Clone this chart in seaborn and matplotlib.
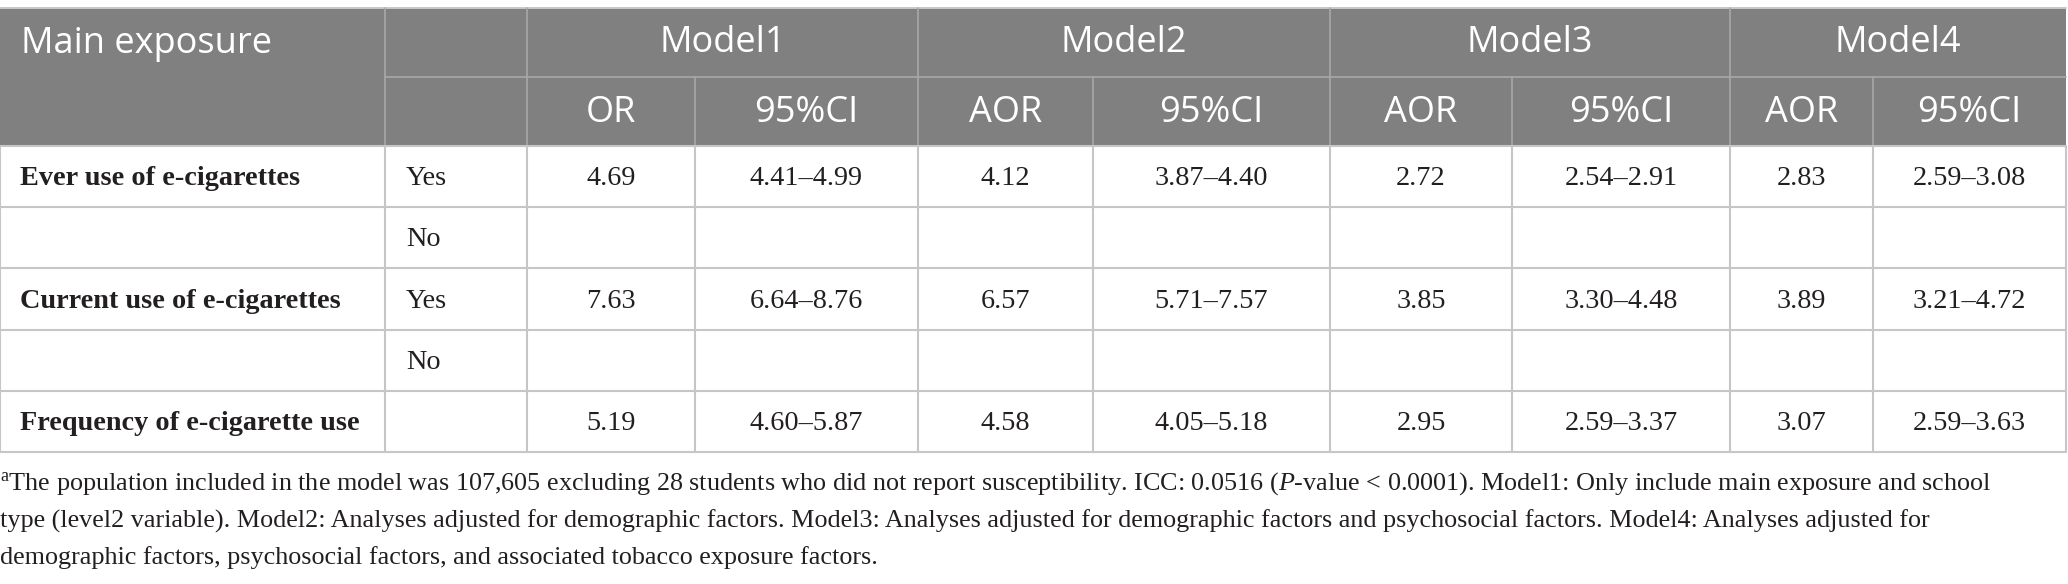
import matplotlib
matplotlib.use("Agg")
import matplotlib.pyplot as plt
import seaborn as sns
from matplotlib.patches import Rectangle

sns.set_theme(style="white")
plt.rcParams['font.family'] = ['Liberation Serif', 'DejaVu Serif']
plt.rcParams['mathtext.fontset'] = 'custom'
plt.rcParams['mathtext.rm'] = 'Liberation Serif'
plt.rcParams['mathtext.it'] = 'Liberation Serif:italic'

# ---------------- data ----------------
exposures = ["Ever use of e-cigarettes", "", "Current use of e-cigarettes", "",
             "Frequency of e-cigarette use"]
levels = ["Yes", "No", "Yes", "No", ""]
model_names = ["Model1", "Model2", "Model3", "Model4"]
sub_headers = ["OR", "95%CI", "AOR", "95%CI", "AOR", "95%CI", "AOR", "95%CI"]
odds = [[4.69, 4.12, 2.72, 2.83], None, [7.63, 6.57, 3.85, 3.89], None,
        [5.19, 4.58, 2.95, 3.07]]
ci_low = [[4.41, 3.87, 2.54, 2.59], None, [6.64, 5.71, 3.30, 3.21], None,
          [4.60, 4.05, 2.59, 2.59]]
ci_high = [[4.99, 4.40, 2.91, 3.08], None, [8.76, 7.57, 4.48, 4.72], None,
           [5.87, 5.18, 3.37, 3.63]]
footnote = [
    r"$^{\mathrm{a}}$The population included in the model was 107,605 excluding 28 students who did not report susceptibility. ICC: 0.0516 ($\mathit{P}$-value < 0.0001). Model1: Only include main exposure and school",
    "type (level2 variable). Model2: Analyses adjusted for demographic factors. Model3: Analyses adjusted for demographic factors and psychosocial factors. Model4: Analyses adjusted for",
    "demographic factors, psychosocial factors, and associated tobacco exposure factors.",
]

# ---------------- layout ----------------
W, H = 2068, 584
col_x = [0, 385, 527, 695, 918, 1093, 1330, 1512, 1730, 1873, 2066]
head_y = [8, 77, 146]
row_y = [146, 207, 268, 330, 391, 452]
HEAD_BG = "#808080"
HEAD_LINE = "#a8a8a8"
BODY_LINE = "#c6c6c6"
TXT = "#231f20"
BODY_FS = 20.3
FOOT_FS = 18.8

fig = plt.figure(figsize=(W / 100, H / 100), dpi=100)
ax = fig.add_axes([0, 0, 1, 1])
ax.set_xlim(0, W)
ax.set_ylim(H, 0)
ax.axis("off")

# header background
ax.add_patch(Rectangle((col_x[0], head_y[0]), col_x[-1] - col_x[0],
                       head_y[2] - head_y[0], facecolor=HEAD_BG, edgecolor="none"))
ax.plot([0, col_x[-1]], [head_y[0], head_y[0]], color="#c8c8c8", lw=1.4)

# header lines
ax.plot([col_x[1], col_x[-1]], [head_y[1], head_y[1]], color=HEAD_LINE, lw=1.2)
for i in [1, 2, 4, 6, 8]:
    ax.plot([col_x[i], col_x[i]], [head_y[0], head_y[2]], color=HEAD_LINE, lw=1.2)
for i in [3, 5, 7, 9]:
    ax.plot([col_x[i], col_x[i]], [head_y[1], head_y[2]], color=HEAD_LINE, lw=1.2)

hfont = dict(family="Open Sans", color="white", fontsize=26, fontweight="medium")
ax.text(21, (head_y[0] + head_y[1]) / 2 + 1, "Main exposure", ha="left", va="center", **hfont)
for m, name in enumerate(model_names):
    xc = (col_x[2 + 2 * m] + col_x[4 + 2 * m]) / 2
    ax.text(xc, (head_y[0] + head_y[1]) / 2 + 1, name, ha="center", va="center", **hfont)
for j, sh in enumerate(sub_headers):
    xc = (col_x[2 + j] + col_x[3 + j]) / 2
    ax.text(xc, (head_y[1] + head_y[2]) / 2 + 2, sh, ha="center", va="center", **hfont)

# body lines
for y in row_y:
    ax.plot([0, col_x[-1]], [y, y], color=BODY_LINE, lw=1.5)
for x in col_x:
    ax.plot([x, x], [row_y[0], row_y[-1]], color=BODY_LINE, lw=1.5)

# body text
for r in range(len(levels)):
    yc = (row_y[r] + row_y[r + 1]) / 2 + 2
    if exposures[r]:
        ax.text(20, yc, exposures[r], ha="left", va="center", fontsize=BODY_FS,
                fontweight="bold", color=TXT)
    if levels[r]:
        ax.text(col_x[1] + 21, yc, levels[r], ha="left", va="center", fontsize=BODY_FS, color=TXT)
    if odds[r] is not None:
        for m in range(len(model_names)):
            x1 = (col_x[2 + 2 * m] + col_x[3 + 2 * m]) / 2
            x2 = (col_x[3 + 2 * m] + col_x[4 + 2 * m]) / 2
            ax.text(x1, yc, f"{odds[r][m]:.2f}", ha="center", va="center",
                    fontsize=BODY_FS, color=TXT)
            ax.text(x2, yc, f"{ci_low[r][m]:.2f}\u2013{ci_high[r][m]:.2f}",
                    ha="center", va="center", fontsize=BODY_FS, color=TXT)

# footnote
for k, line in enumerate(footnote):
    ax.text(0, 484 + 37 * k, line, ha="left", va="center", fontsize=FOOT_FS, color=TXT)

fig.savefig("out.png", dpi=100)
